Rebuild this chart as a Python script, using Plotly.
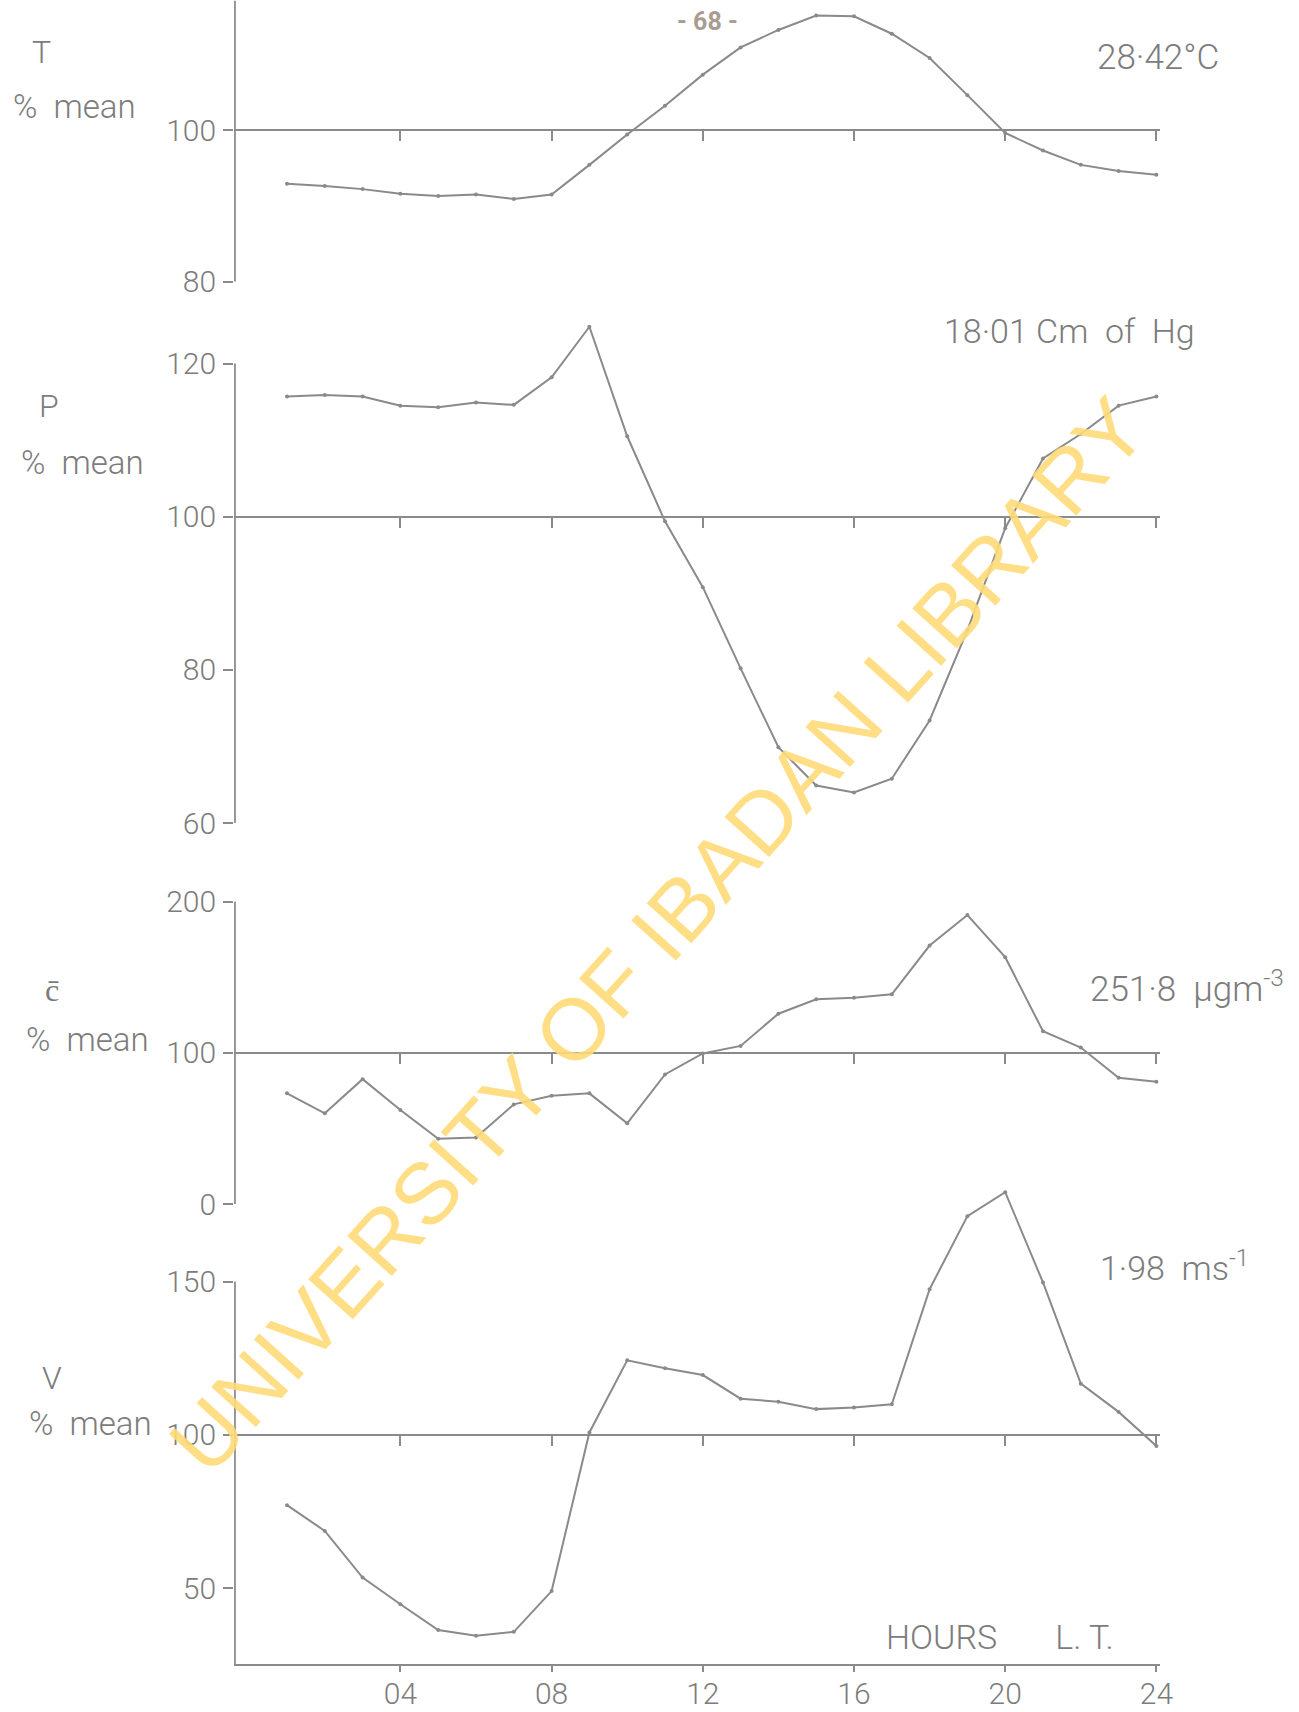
import plotly.graph_objects as go

# Diurnal variation, each quantity as percent of its daily mean
HOURS = list(range(1, 25))
T_PCT = [92.9, 92.6, 92.2, 91.6, 91.3, 91.5, 90.9, 91.5, 95.4, 99.4, 103.2, 107.3,
         110.9, 113.2, 115.1, 115.0, 112.7, 109.5, 104.6, 99.6, 97.3, 95.4, 94.6, 94.1]
P_PCT = [115.7, 115.9, 115.7, 114.5, 114.3, 114.9, 114.6, 118.2, 124.8, 110.5, 99.4, 90.8,
         80.2, 69.9, 64.9, 64.0, 65.8, 73.4, 85.2, 98.5, 107.6, 110.8, 114.5, 115.7]
C_PCT = [73.2, 60.0, 82.6, 62.2, 43.1, 44.0, 65.9, 71.6, 73.2, 53.4, 85.7, 99.6,
         104.6, 125.9, 135.4, 136.5, 138.7, 171.0, 191.2, 163.3, 114.3, 103.5, 83.5, 80.9]
V_PCT = [77.1, 68.7, 53.5, 44.8, 36.4, 34.5, 35.8, 49.1, 100.8, 124.3, 121.7, 119.5,
         111.8, 110.8, 108.4, 108.9, 110.0, 147.5, 171.3, 179.1, 149.7, 116.7, 107.5, 96.4]

HOUR_TICKS = [4, 8, 12, 16, 20, 24]
HOUR_LABELS = ["04", "08", "12", "16", "20", "24"]

W, H = 1299, 1712
LINE = "#8a8a8a"
TEXT = "#7c7c7c"
FONT = "Roboto"

# horizontal scale (pixels): position of hour 0 and pixels per hour
X0_PX, X_PPH = 249.2, 37.8
X_RANGE = [-0.40, 24.1]
AXIS_X = -0.38
x_dom = [(X0_PX + X_RANGE[0] * X_PPH) / W, (X0_PX + X_RANGE[1] * X_PPH) / W]

# per panel: two reference values with their pixel rows, the value range,
# the span of the drawn vertical axis and the labelled ticks
panels = [
    dict(values=T_PCT, ref=((100, 130.0), (80, 281.6)), rng=[79, 117.1],
         axis=(80, 117.1), ticks=[80, 100]),
    dict(values=P_PCT, ref=((120, 363.5), (60, 823.1)), rng=[59, 126.5],
         axis=(60, 120), ticks=[60, 80, 100, 120]),
    dict(values=C_PCT, ref=((200, 901.7), (0, 1204.0)), rng=[-5, 200.5],
         axis=(0, 200), ticks=[0, 100, 200]),
    dict(values=V_PCT, ref=((150, 1281.5), (50, 1588.3)), rng=[25.3, 182],
         axis=(25.3, 150), ticks=[50, 100, 150]),
]


def row_px(p, v):
    (v1, y1), (v2, y2) = p["ref"]
    return y1 + (v - v1) * (y2 - y1) / (v2 - v1)


def paper_y(p, v):
    return 1 - row_px(p, v) / H


fig = go.Figure()
layout = {}
n = len(panels)
for i, p in enumerate(panels, start=1):
    xa, ya = f"x{i}", f"y{i}"
    dom = [max(0.0, paper_y(p, p["rng"][0])), min(1.0, paper_y(p, p["rng"][1]))]

    # the series
    fig.add_trace(go.Scatter(
        x=HOURS, y=p["values"], mode="lines+markers", xaxis=xa, yaxis=ya,
        line=dict(color=LINE, width=2), marker=dict(color=LINE, size=4),
        showlegend=False, hoverinfo="skip"))
    # vertical axis line
    fig.add_trace(go.Scatter(
        x=[AXIS_X, AXIS_X], y=list(p["axis"]), mode="lines", xaxis=xa, yaxis=ya,
        line=dict(color=LINE, width=2), showlegend=False, hoverinfo="skip"))

    layout[f"yaxis{i}"] = dict(
        domain=dom, range=p["rng"], anchor=xa, automargin=False,
        showline=False, showgrid=False, zeroline=False,
        ticks="outside", ticklen=10, tickwidth=2, tickcolor=LINE,
        tickvals=p["ticks"], ticklabelstandoff=1,
        tickfont=dict(family=FONT, size=30, color=TEXT, weight=300))

    line100 = dict(
        domain=x_dom, range=X_RANGE, automargin=False, showgrid=False, zeroline=False,
        showline=True, linecolor=LINE, linewidth=2,
        ticks="outside", ticklen=10, tickwidth=2, tickcolor=LINE,
        tickvals=HOUR_TICKS, showticklabels=False)

    if i < n:
        # reference line at 100 % of the mean, carrying the hour ticks
        layout[f"xaxis{i}"] = dict(line100, anchor="free", position=paper_y(p, 100))
    else:
        # bottom time axis
        layout[f"xaxis{i}"] = dict(
            domain=x_dom, range=X_RANGE, anchor=ya, automargin=False,
            showgrid=False, zeroline=False,
            showline=True, linecolor=LINE, linewidth=2,
            ticks="outside", ticklen=6, tickwidth=2, tickcolor=LINE,
            tickvals=HOUR_TICKS, ticktext=HOUR_LABELS, ticklabelstandoff=-4,
            tickfont=dict(family=FONT, size=30, color=TEXT, weight=300))
        layout[f"xaxis{n + 1}"] = dict(line100, anchor="free", overlaying=xa,
                                       position=paper_y(p, 100))
        fig.add_trace(go.Scatter(x=[None], y=[None], xaxis=f"x{n + 1}", yaxis=ya,
                                 showlegend=False, hoverinfo="skip"))


def label(text, x_px, y_px, size=30, **kw):
    return dict(text=text, x=x_px / W, y=1 - y_px / H, xref="paper", yref="paper",
                showarrow=False, xanchor=kw.pop("xanchor", "center"), yanchor="middle",
                font=dict(family=FONT, size=size, color=kw.pop("color", TEXT),
                          weight=kw.pop("weight", 300)), **kw)


annotations = [
    label("- 68 -", 707, 22, size=25, color="#a99c92", weight=700),
    label("T", 41, 52, size=32),
    label("%  mean", 74, 106, size=33),
    label("28·42°C", 1158, 57, size=35),
    label("P", 49, 406, size=32),
    label("%  mean", 82, 463, size=33),
    label("18·01 Cm  of  Hg", 1069, 331, size=34),
    label("c\u0304", 52, 990, size=32),
    label("%  mean", 87, 1039, size=33),
    label("251·8  µgm<sup>-3</sup>", 1187, 986, size=35),
    label("V", 52, 1378, size=32),
    label("%  mean", 90, 1423, size=33),
    label("1·98  ms<sup>-1</sup>", 1174, 1266, size=34),
    label("HOURS       L. T.", 1000, 1637, size=34),
    # library watermark across the sheet
    dict(text="UNIVERSITY OF IBADAN LIBRARY", x=657 / W, y=1 - 935 / H,
         xref="paper", yref="paper", showarrow=False, textangle=-48,
         xanchor="center", yanchor="middle", opacity=0.9,
         font=dict(family="Liberation Sans", size=87, color="#ffdb78")),
]

fig.update_layout(
    width=W, height=H, margin=dict(l=0, r=0, t=0, b=0, autoexpand=False),
    paper_bgcolor="white", plot_bgcolor="rgba(0,0,0,0)",
    annotations=annotations, **layout)

fig.write_html("out.html")
